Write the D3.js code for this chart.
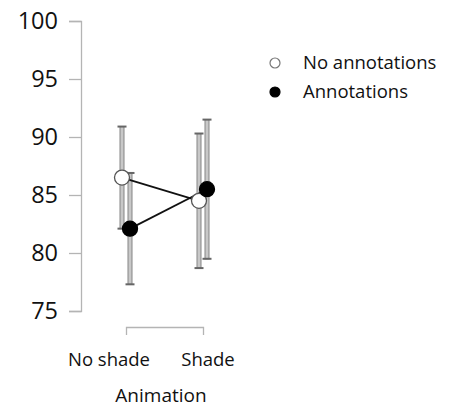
<!DOCTYPE html>
<html>
<head>
<meta charset="utf-8">
<script src="https://cdn.jsdelivr.net/npm/d3@7"></script>
<style>
  html, body { margin: 0; padding: 0; background: #fff; }
  svg { display: block; font-family: "Open Sans", sans-serif; }
</style>
</head>
<body>
<svg id="chart" width="449" height="410"></svg>
<script>
// Condition levels on the x axis
const conditions = ["No shade", "Shade"];
// Series names and fills
const seriesNames = ["No annotations", "Annotations"];
const seriesFills = ["#ffffff", "#000000"];
// Mean scores per condition, one array per series
const meansNoAnnot = [86.5, 84.5];
const meansAnnot = [82.1, 85.5];
// Error bar half-widths (same order)
const errNoAnnot = [4.4, 5.8];
const errAnnot = [4.8, 6.0];
// Y tick values
const yTicks = [75, 80, 85, 90, 95, 100];

const series = [
  { name: seriesNames[0], fill: seriesFills[0], means: meansNoAnnot, errs: errNoAnnot, dx: -4 },
  { name: seriesNames[1], fill: seriesFills[1], means: meansAnnot, errs: errAnnot, dx: 4 }
];

const svg = d3.select("#chart");

const y = d3.scaleLinear().domain([75, 100]).range([311, 21]);
const x = d3.scalePoint().domain(conditions).range([126, 203]);

// Y axis: bracket-style domain with left ticks
const yAxis = svg.append("g")
  .attr("transform", "translate(81,0)")
  .call(d3.axisLeft(y).tickValues(yTicks).tickSize(12).tickPadding(11));
yAxis.selectAll("path, line").attr("stroke", "#b4b4b4").attr("stroke-width", 1.3);
yAxis.selectAll("text")
  .attr("font-size", 23.5)
  .attr("fill", "#111")
  .attr("font-family", "Open Sans, sans-serif");

// X axis: bracket spanning the two conditions
const xAxis = svg.append("g")
  .attr("transform", "translate(0,327)")
  .call(d3.axisBottom(x).tickSizeInner(0).tickSizeOuter(8).tickFormat(""));
xAxis.selectAll("path").attr("stroke", "#b4b4b4").attr("stroke-width", 1.3);
xAxis.selectAll("line").remove();

// Condition labels
const labelShift = { "No shade": -17, "Shade": 5 };
svg.append("g").selectAll("text")
  .data(conditions)
  .join("text")
  .attr("x", d => x(d) + labelShift[d])
  .attr("y", 366)
  .attr("text-anchor", "middle")
  .attr("font-size", 18.5)
  .attr("fill", "#111")
  .text(d => d);

svg.append("text")
  .attr("x", 161)
  .attr("y", 402)
  .attr("text-anchor", "middle")
  .attr("font-size", 19)
  .attr("fill", "#111")
  .text("Animation");

// Error bars
series.forEach(s => {
  const g = svg.append("g");
  conditions.forEach((c, i) => {
    const cx = x(c) + s.dx;
    const top = y(s.means[i] + s.errs[i]);
    const bot = y(s.means[i] - s.errs[i]);
    g.append("rect")
      .attr("x", cx - 2).attr("y", top)
      .attr("width", 4).attr("height", bot - top)
      .attr("fill", "#c8c8c8").attr("stroke", "#858585").attr("stroke-width", 1);
    [top, bot].forEach(yy => {
      g.append("line")
        .attr("x1", cx - 4.5).attr("x2", cx + 4.5)
        .attr("y1", yy).attr("y2", yy)
        .attr("stroke", "#666").attr("stroke-width", 2);
    });
  });
});

// Connecting lines
const line = d3.line();
series.forEach(s => {
  svg.append("path")
    .attr("d", line(conditions.map((c, i) => [x(c) + s.dx, y(s.means[i])])))
    .attr("fill", "none")
    .attr("stroke", "#111")
    .attr("stroke-width", 1.8);
});

// Mean markers
series.forEach(s => {
  svg.append("g").selectAll("circle")
    .data(conditions)
    .join("circle")
    .attr("cx", (c) => x(c) + s.dx)
    .attr("cy", (c, i) => y(s.means[i]))
    .attr("r", 7.5)
    .attr("fill", s.fill)
    .attr("stroke", s.fill === "#ffffff" ? "#555" : "#000")
    .attr("stroke-width", 1.3);
});

// Legend
const legend = svg.append("g").attr("transform", "translate(275,63)");
legend.selectAll("g")
  .data(series)
  .join("g")
  .attr("transform", (d, i) => `translate(0,${i * 29})`)
  .each(function (d) {
    const g = d3.select(this);
    g.append("circle")
      .attr("r", 5)
      .attr("fill", d.fill)
      .attr("stroke", d.fill === "#ffffff" ? "#777" : "#000")
      .attr("stroke-width", 1.2);
    g.append("text")
      .attr("x", 28)
      .attr("dy", "0.35em")
      .attr("font-size", 18.5)
      .attr("fill", "#111")
      .text(d.name);
  });
</script>
</body>
</html>
